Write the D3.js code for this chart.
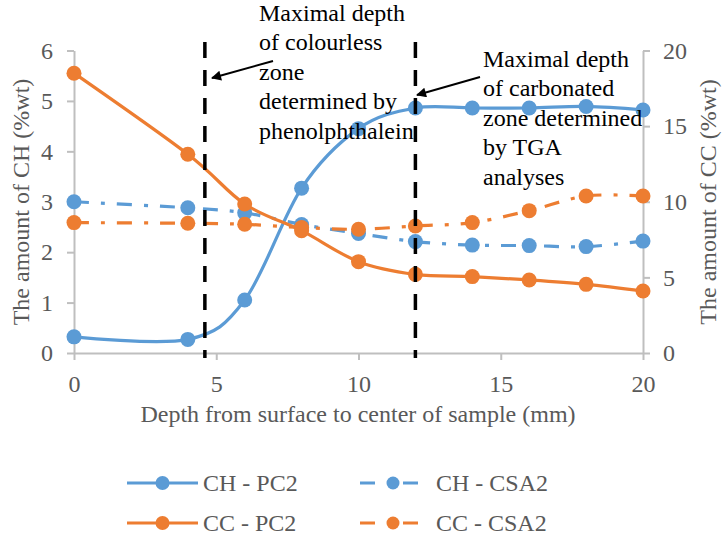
<!DOCTYPE html>
<html>
<head>
<meta charset="utf-8">
<script src="https://cdn.jsdelivr.net/npm/d3@7"></script>
<style>
  body { margin: 0; background: #fff; }
  text { font-family: "Liberation Serif", "Times New Roman", serif; }
</style>
</head>
<body>
<div class="chart"></div>
<script>
// depths (mm) shared by every series
const depth = [0, 4, 6, 8, 10, 12, 14, 16, 18, 20];
// left axis, amount of CH (%wt)
const chPC2 = [0.32, 0.27, 1.05, 3.27, 4.45, 4.86, 4.86, 4.86, 4.89, 4.82];
const chCSA2 = [3.0, 2.88, 2.78, 2.55, 2.37, 2.21, 2.14, 2.13, 2.11, 2.22];
// right axis, amount of CC (%wt)
const ccPC2 = [18.5, 13.14, 9.85, 8.09, 6.04, 5.2, 5.05, 4.83, 4.54, 4.1];
const ccCSA2 = [8.62, 8.58, 8.51, 8.3, 8.18, 8.4, 8.62, 9.41, 10.38, 10.38];
// ticks
const xTicks = [0, 5, 10, 15, 20];
const chTicks = [0, 1, 2, 3, 4, 5, 6];
const ccTicks = [0, 5, 10, 15, 20];
// maximal depths marked by the dashed lines
const markDepths = [4.6, 12];

const blue = '#5b9bd5', orange = '#ed7d31', grey = '#595959';

const width = 722, height = 540;
const svg = d3.select('.chart')
    .append('svg')
    .attr('width', width)
    .attr('height', height);

const x = d3.scaleLinear().domain([0, 20]).range([74, 643]);
const yL = d3.scaleLinear().domain([0, 6]).range([353, 50.5]);
const yR = d3.scaleLinear().domain([0, 20]).range([353, 50.5]);

//axes
function styleAxis(g) {
    g.select('.domain').attr('stroke', '#bfbfbf').attr('stroke-width', 2);
    g.selectAll('.tick line').attr('stroke', '#bfbfbf').attr('stroke-width', 2);
    g.selectAll('.tick text').attr('fill', grey).attr('font-size', 24)
        .style('font-family', '"Liberation Serif", serif');
}
svg.append('g').attr('transform', 'translate(0,353)')
    .call(d3.axisBottom(x).tickValues(xTicks).tickFormat(d3.format('d'))
        .tickSize(7).tickSizeOuter(0).tickPadding(15))
    .call(styleAxis);
svg.append('g').attr('transform', 'translate(74,0)')
    .call(d3.axisLeft(yL).tickValues(chTicks).tickFormat(d3.format('d'))
        .tickSize(7).tickSizeOuter(0).tickPadding(14))
    .call(styleAxis);
svg.append('g').attr('transform', 'translate(643,0)')
    .call(d3.axisRight(yR).tickValues(ccTicks).tickFormat(d3.format('d'))
        .tickSize(7).tickSizeOuter(0).tickPadding(13))
    .call(styleAxis);

//axis titles
svg.append('text').text('The amount of CH (%wt)')
    .attr('transform', 'translate(29,202) rotate(-90)')
    .attr('text-anchor', 'middle').attr('font-size', 24).attr('fill', grey);
svg.append('text').text('The amount of CC (%wt)')
    .attr('transform', 'translate(716,202) rotate(-90)')
    .attr('text-anchor', 'middle').attr('font-size', 24).attr('fill', grey);
svg.append('text').text('Depth from surface to center of sample (mm)')
    .attr('x', 358).attr('y', 422)
    .attr('text-anchor', 'middle').attr('font-size', 24).attr('fill', grey);

//series, primary first then secondary
const series = [
    {name: 'CH - PC2', values: chPC2, y: yL, color: blue, dash: null},
    {name: 'CH - CSA2', values: chCSA2, y: yL, color: blue, dash: '15,12,4,12'},
    {name: 'CC - PC2', values: ccPC2, y: yR, color: orange, dash: null},
    {name: 'CC - CSA2', values: ccCSA2, y: yR, color: orange, dash: '15,12,4,12'},
];

series.forEach(s => {
    const pts = depth.map((d, i) => [d, s.values[i]]);
    const line = d3.line()
        .x(d => x(d[0]))
        .y(d => s.y(d[1]))
        .curve(d3.curveCatmullRom.alpha(0));
    svg.append('path')
        .attr('d', line(pts))
        .attr('fill', 'none')
        .attr('stroke', s.color)
        .attr('stroke-width', 3.2)
        .attr('stroke-dasharray', s.dash);
    svg.selectAll(null)
        .data(pts)
        .enter()
        .append('circle')
        .attr('cx', d => x(d[0]))
        .attr('cy', d => s.y(d[1]))
        .attr('r', 7.5)
        .attr('fill', s.color);
});

//dashed vertical lines
svg.selectAll('.mark')
    .data(markDepths)
    .enter()
    .append('line')
    .attr('x1', d => x(d)).attr('x2', d => x(d))
    .attr('y1', 42).attr('y2', 358)
    .attr('stroke', '#000')
    .attr('stroke-width', 3.5)
    .attr('stroke-dasharray', '16,12');

//annotations
svg.append('defs').append('marker')
    .attr('id', 'arrow')
    .attr('viewBox', '0 0 10 10')
    .attr('refX', 9).attr('refY', 5)
    .attr('markerWidth', 6).attr('markerHeight', 5)
    .attr('markerUnits', 'strokeWidth')
    .attr('orient', 'auto')
    .append('path').attr('d', 'M0,0L10,5L0,10Z').attr('fill', '#000');

const notes = [
    {x: 259, y: 21, lines: ['Maximal depth', 'of colourless', 'zone', 'determined by', 'phenolphthalein'],
     arrow: [273, 61, 212, 78]},
    {x: 483, y: 67, lines: ['Maximal depth', 'of carbonated', 'zone determined', 'by TGA', 'analyses'],
     arrow: [480, 77, 417, 95]},
];
notes.forEach(n => {
    svg.append('g').selectAll('text')
        .data(n.lines)
        .enter()
        .append('text')
        .text(d => d)
        .attr('x', n.x)
        .attr('y', (d, i) => n.y + i * 29.4)
        .attr('font-size', 24)
        .attr('fill', '#000');
    svg.append('line')
        .attr('x1', n.arrow[0]).attr('y1', n.arrow[1])
        .attr('x2', n.arrow[2]).attr('y2', n.arrow[3])
        .attr('stroke', '#000').attr('stroke-width', 2)
        .attr('marker-end', 'url(#arrow)');
});

//legend
const legendPos = [[127, 483], [360, 483], [127, 523], [360, 523]];
series.forEach((s, i) => {
    const [lx, ly] = legendPos[i];
    const w = s.dash ? 59 : 71;
    const g = svg.append('g');
    g.append('line')
        .attr('x1', lx).attr('x2', lx + w)
        .attr('y1', ly).attr('y2', ly)
        .attr('stroke', s.color).attr('stroke-width', 3.2)
        .attr('stroke-dasharray', s.dash);
    g.append('circle')
        .attr('cx', s.dash ? lx + 33 : lx + w / 2).attr('cy', ly)
        .attr('r', s.dash ? 6.5 : 7).attr('fill', s.color);
    g.append('text').text(s.name)
        .attr('x', lx + 76).attr('y', ly + 8)
        .attr('font-size', 24).attr('fill', grey);
});
</script>
</body>
</html>
